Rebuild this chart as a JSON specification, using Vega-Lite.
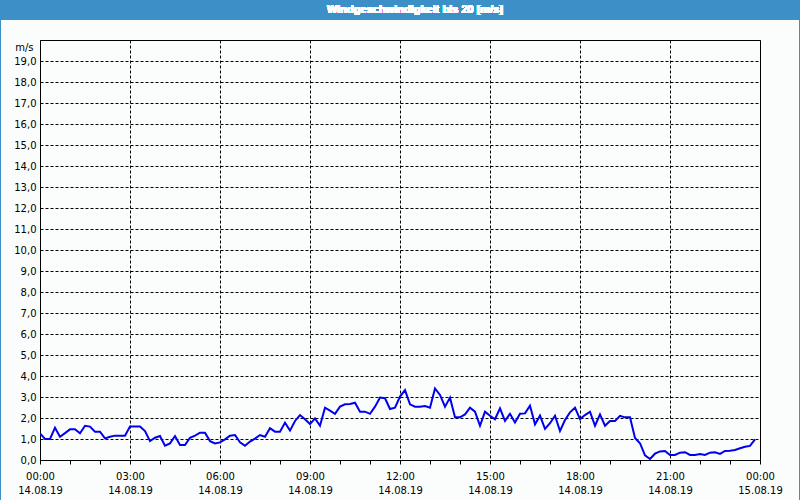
{
  "$schema": "https://vega.github.io/schema/vega-lite/v6.json",
  "width": 720,
  "height": 420,
  "autosize": {"type": "none"},
  "padding": {"left": 40, "top": 40, "right": 40, "bottom": 40},
  "background": "#fbfdfc",
  "config": {"view": {"stroke": "#000000", "strokeWidth": 1}, "font": "DejaVu Sans"},
  "data": {"values": [
    {"min": 0, "v": 1.27}, {"min": 10, "v": 1.0}, {"min": 20, "v": 1.0}, {"min": 30, "v": 1.54},
    {"min": 40, "v": 1.11}, {"min": 50, "v": 1.28}, {"min": 60, "v": 1.46}, {"min": 70, "v": 1.46},
    {"min": 80, "v": 1.27}, {"min": 90, "v": 1.63}, {"min": 100, "v": 1.59}, {"min": 110, "v": 1.35},
    {"min": 120, "v": 1.35}, {"min": 130, "v": 1.03}, {"min": 140, "v": 1.11}, {"min": 150, "v": 1.16},
    {"min": 160, "v": 1.16}, {"min": 170, "v": 1.16}, {"min": 180, "v": 1.59}, {"min": 190, "v": 1.59},
    {"min": 200, "v": 1.59}, {"min": 210, "v": 1.38}, {"min": 220, "v": 0.9}, {"min": 230, "v": 1.06},
    {"min": 240, "v": 1.14}, {"min": 250, "v": 0.68}, {"min": 260, "v": 0.79}, {"min": 270, "v": 1.14},
    {"min": 280, "v": 0.71}, {"min": 290, "v": 0.71}, {"min": 300, "v": 1.06}, {"min": 310, "v": 1.16},
    {"min": 320, "v": 1.3}, {"min": 330, "v": 1.3}, {"min": 340, "v": 0.9}, {"min": 350, "v": 0.79},
    {"min": 360, "v": 0.84}, {"min": 370, "v": 0.98}, {"min": 380, "v": 1.16}, {"min": 390, "v": 1.19},
    {"min": 400, "v": 0.84}, {"min": 410, "v": 0.68}, {"min": 420, "v": 0.88}, {"min": 430, "v": 1.02},
    {"min": 440, "v": 1.19}, {"min": 450, "v": 1.11}, {"min": 460, "v": 1.51}, {"min": 470, "v": 1.35},
    {"min": 480, "v": 1.35}, {"min": 490, "v": 1.78}, {"min": 500, "v": 1.4}, {"min": 510, "v": 1.86},
    {"min": 520, "v": 2.14}, {"min": 530, "v": 1.94}, {"min": 540, "v": 1.71}, {"min": 550, "v": 1.98},
    {"min": 560, "v": 1.63}, {"min": 570, "v": 2.49}, {"min": 580, "v": 2.35}, {"min": 590, "v": 2.2},
    {"min": 600, "v": 2.54}, {"min": 610, "v": 2.65}, {"min": 620, "v": 2.67}, {"min": 630, "v": 2.73},
    {"min": 640, "v": 2.3}, {"min": 650, "v": 2.3}, {"min": 660, "v": 2.2}, {"min": 670, "v": 2.54},
    {"min": 680, "v": 2.97}, {"min": 690, "v": 2.94}, {"min": 700, "v": 2.43}, {"min": 710, "v": 2.49},
    {"min": 720, "v": 3.02}, {"min": 730, "v": 3.33}, {"min": 740, "v": 2.65}, {"min": 750, "v": 2.54},
    {"min": 760, "v": 2.54}, {"min": 770, "v": 2.57}, {"min": 780, "v": 2.49}, {"min": 790, "v": 3.41},
    {"min": 800, "v": 3.1}, {"min": 810, "v": 2.54}, {"min": 820, "v": 2.97}, {"min": 830, "v": 2.03},
    {"min": 840, "v": 2.03}, {"min": 850, "v": 2.17}, {"min": 860, "v": 2.49}, {"min": 870, "v": 2.3},
    {"min": 880, "v": 1.63}, {"min": 890, "v": 2.3}, {"min": 900, "v": 2.11}, {"min": 910, "v": 1.94},
    {"min": 920, "v": 2.46}, {"min": 930, "v": 1.86}, {"min": 940, "v": 2.2}, {"min": 950, "v": 1.79},
    {"min": 960, "v": 2.2}, {"min": 970, "v": 2.22}, {"min": 980, "v": 2.59}, {"min": 990, "v": 1.7},
    {"min": 1000, "v": 2.11}, {"min": 1010, "v": 1.48}, {"min": 1020, "v": 1.75}, {"min": 1030, "v": 2.11},
    {"min": 1040, "v": 1.38}, {"min": 1050, "v": 1.9}, {"min": 1060, "v": 2.27}, {"min": 1070, "v": 2.49},
    {"min": 1080, "v": 1.95}, {"min": 1090, "v": 2.14}, {"min": 1100, "v": 2.3}, {"min": 1110, "v": 1.63},
    {"min": 1120, "v": 2.17}, {"min": 1130, "v": 1.63}, {"min": 1140, "v": 1.86}, {"min": 1150, "v": 1.86},
    {"min": 1160, "v": 2.1}, {"min": 1170, "v": 2.03}, {"min": 1180, "v": 2.03}, {"min": 1190, "v": 1.05},
    {"min": 1200, "v": 0.8}, {"min": 1210, "v": 0.22}, {"min": 1220, "v": 0.05}, {"min": 1230, "v": 0.3},
    {"min": 1240, "v": 0.41}, {"min": 1250, "v": 0.43}, {"min": 1260, "v": 0.24}, {"min": 1270, "v": 0.24},
    {"min": 1280, "v": 0.35}, {"min": 1290, "v": 0.37}, {"min": 1300, "v": 0.24}, {"min": 1310, "v": 0.24},
    {"min": 1320, "v": 0.29}, {"min": 1330, "v": 0.24}, {"min": 1340, "v": 0.35}, {"min": 1350, "v": 0.37},
    {"min": 1360, "v": 0.29}, {"min": 1370, "v": 0.43}, {"min": 1380, "v": 0.44}, {"min": 1390, "v": 0.48},
    {"min": 1400, "v": 0.56}, {"min": 1410, "v": 0.63}, {"min": 1420, "v": 0.67}, {"min": 1430, "v": 0.98}
  ]},
  "layer": [
    {
      "mark": {"type": "line", "color": "#0000ee", "strokeWidth": 2, "clip": true},
      "encoding": {
        "x": {
          "field": "min", "type": "quantitative",
          "scale": {"domain": [0, 1440], "nice": false, "zero": false},
          "axis": {
            "values": [0, 60, 120, 180, 240, 300, 360, 420, 480, 540, 600, 660, 720, 780, 840, 900, 960, 1020, 1080, 1140, 1200, 1260, 1320, 1380, 1440],
            "tickCount": 100,
            "labelExpr": "datum.value % 180 == 0 ? [(floor(datum.value / 60) % 24 < 10 ? '0' : '') + (floor(datum.value / 60) % 24) + ':00', datum.value >= 1440 ? '15.08.19' : '14.08.19'] : ''",
            "grid": true,
            "gridColor": "#000000",
            "gridDash": [3, 2],
            "gridWidth": 1,
            "gridOpacity": {"condition": {"test": "datum.value % 180 == 0", "value": 1}, "value": 0},
            "ticks": true,
            "tickSize": 4,
            "tickColor": "#000000",
            "domain": false,
            "labelColor": "#000000",
            "labelFontSize": 10,
            "labelLineHeight": 14,
            "labelPadding": 7,
            "labelFlush": false,
            "labelOverlap": false,
            "labelBound": false,
            "title": null
          }
        },
        "y": {
          "field": "v", "type": "quantitative",
          "scale": {"domain": [0, 20], "nice": false, "zero": false},
          "axis": {
            "values": [0, 1, 2, 3, 4, 5, 6, 7, 8, 9, 10, 11, 12, 13, 14, 15, 16, 17, 18, 19],
            "tickCount": 100,
            "labelExpr": "replace(format(datum.value, '.1f'), '.', ',')",
            "grid": true,
            "gridColor": "#000000",
            "gridDash": [3, 2],
            "gridWidth": 1,
            "ticks": false,
            "domain": false,
            "labelColor": "#000000",
            "labelFontSize": 10,
            "labelPadding": 4,
            "labelOverlap": false,
            "labelFlush": false,
            "title": "m/s",
            "titleAngle": 0,
            "titleX": -7,
            "titleY": 7,
            "titleAlign": "right",
            "titleBaseline": "middle",
            "titleFontWeight": "normal",
            "titleFontSize": 10,
            "titleColor": "#000000"
          }
        }
      }
    },
    {
      "mark": {"type": "rect", "color": "#3c8fc7", "clip": false},
      "encoding": {
        "x": {"datum": -80, "type": "quantitative"},
        "x2": {"datum": 1520},
        "y": {"datum": 21.95, "type": "quantitative"},
        "y2": {"datum": 20.95}
      }
    },
    {
      "mark": {"type": "rect", "fill": null, "filled": false, "stroke": "#3c8fc7", "strokeWidth": 2, "clip": false},
      "encoding": {
        "x": {"datum": -80, "type": "quantitative"},
        "x2": {"datum": 1520},
        "y": {"datum": 21.95, "type": "quantitative"},
        "y2": {"datum": -1.95}
      }
    },
    {
      "mark": {"type": "text", "text": "Windgeschwindigkeit bis 20 [m/s]", "color": "#ffffff", "fontWeight": "bold", "fontSize": 11, "font": "Liberation Sans", "align": "center", "baseline": "middle", "clip": false},
      "encoding": {
        "x": {"datum": 750, "type": "quantitative"},
        "y": {"datum": 21.45, "type": "quantitative"}
      }
    }
  ]
}
